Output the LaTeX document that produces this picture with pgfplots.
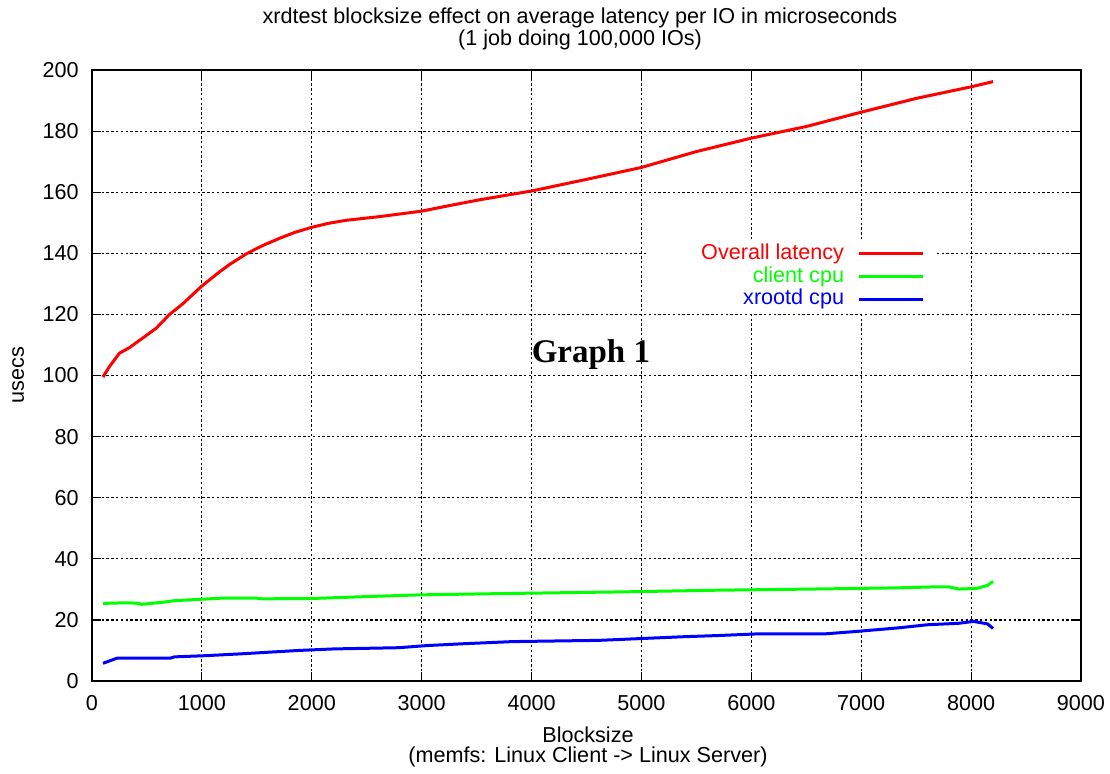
\documentclass[border=0pt]{standalone}
\usepackage{fontspec}
\setmainfont{Liberation Sans}
\newfontfamily\graphfont{Liberation Serif}
\usepackage{pgfplots}
\pgfplotsset{compat=1.18}

\definecolor{lred}{RGB}{255,0,0}
\definecolor{lgreen}{RGB}{0,255,0}
\definecolor{lblue}{RGB}{0,0,255}

\newcommand{\gfont}{\fontsize{10.8}{13}\selectfont}
\newcommand{\keytext}[2]{\makebox[98pt][r]{\textcolor{#1}{#2}}}

\begin{document}
\begin{tikzpicture}
% page size: 1 px of the reference = 0.5pt
\useasboundingbox (-46pt,-46pt) rectangle (509pt,340.5pt);
\begin{axis}[
    name=main,
    at={(0,0)}, anchor=south west,
    scale only axis,
    width=494.5pt, height=305.5pt,
    xmin=0, xmax=9000, ymin=0, ymax=200,
    xtick={0,1000,...,9000},
    ytick={0,20,...,200},
    font=\gfont,
    /pgf/number format/assume math mode=true,
    /pgf/number format/1000 sep={},
    scaled x ticks=false,
    tick align=inside,
    major tick length=4.5pt,
    tick style={black, line width=0.6pt},
    axis line style={black, line width=0.9pt},
    grid=major,
    major grid style={black, line width=0.6pt, dash pattern=on 1.2pt off 1.2pt},
    xticklabel style={anchor=base, yshift=-14.5pt, inner sep=0pt},
    yticklabel style={anchor=east, xshift=-6.5pt, inner sep=0pt},
    legend cell align=right,
    legend plot pos=right,
    legend style={at={(axis cs:7685,144.06)}, anchor=north east,
        draw=none, fill=white, inner xsep=0pt, inner ysep=1.5pt,
        row sep=1.6pt, column sep=6.5pt,
        nodes={inner sep=0pt, text height=7.6pt, text depth=2.1pt}},
    legend image code/.code={\draw[#1] (0pt,0pt) -- (32pt,0pt); \path (38pt,0pt);},
]
\addplot[lred, line width=1.5pt, line join=round] coordinates {
    (100,99.5) (160,103) (250,107.3) (340,109.1) (463,112.3) (585,115.5)
    (706,120) (827,123.5) (1000,129.3) (1160,133.9) (1250,136.3) (1403,139.8)
    (1550,142.5) (1706,144.9) (1850,146.9) (2000,148.5) (2150,149.8)
    (2312,150.8) (2615,152) (3000,153.8) (3250,155.6) (3524,157.5)
    (4000,160.4) (4500,164.2) (5000,168.1) (5500,173.3) (6000,177.7)
    (6500,181.5) (7000,186.2) (7500,190.7) (8000,194.5) (8200,196.2)
};
\addlegendentry{\keytext{lred}{Overall latency}}
\addplot[lgreen, line width=1.5pt, line join=round] coordinates {
    (100,25.4) (300,25.6) (400,25.5) (455,25.1) (650,25.8) (750,26.3)
    (910,26.6) (1170,27.1) (1500,27.1) (1550,26.9) (2000,27.0) (2470,27.6)
    (2990,28.2) (3700,28.6) (4870,29.2) (5650,29.7) (6560,30.1) (7340,30.5)
    (7660,30.8) (7800,30.8) (7890,30.1) (8050,30.3) (8150,31.3) (8200,32.6)
};
\addlegendentry{\keytext{lgreen}{client cpu}}
\addplot[lblue, line width=1.5pt, line join=round] coordinates {
    (100,5.8) (230,7.5) (715,7.5) (750,7.9) (1040,8.3) (1360,8.9)
    (1880,10) (2200,10.5) (2790,10.9) (3050,11.6) (3380,12.2) (3830,12.9)
    (4610,13.3) (5000,13.9) (5390,14.5) (5710,14.9) (6040,15.4) (6660,15.4)
    (6950,16.2) (7340,17.4) (7600,18.4) (7890,18.9) (8020,19.5) (8150,18.7)
    (8200,17.2)
};
\addlegendentry{\keytext{lblue}{xrootd cpu}}
\node[font=\graphfont\bfseries\fontsize{16.5}{18}\selectfont] at (axis cs:4540,106.7) {Graph 1};
\end{axis}
% titles and axis labels
\node[anchor=base, font=\gfont] at (244pt,328.5pt) {xrdtest blocksize effect on average latency per IO in microseconds};
\node[anchor=base, font=\gfont] at (244pt,317.5pt) {(1 job doing 100,000 IOs)};
\node[anchor=base, font=\gfont] at (248pt,-30.5pt) {Blocksize};
\node[anchor=base, font=\gfont] at (248pt,-40.5pt) {(memfs: Linux Client -> Linux Server)};
\node[anchor=base, rotate=90, font=\gfont] at (-34pt,153pt) {usecs};
\end{tikzpicture}
\end{document}
